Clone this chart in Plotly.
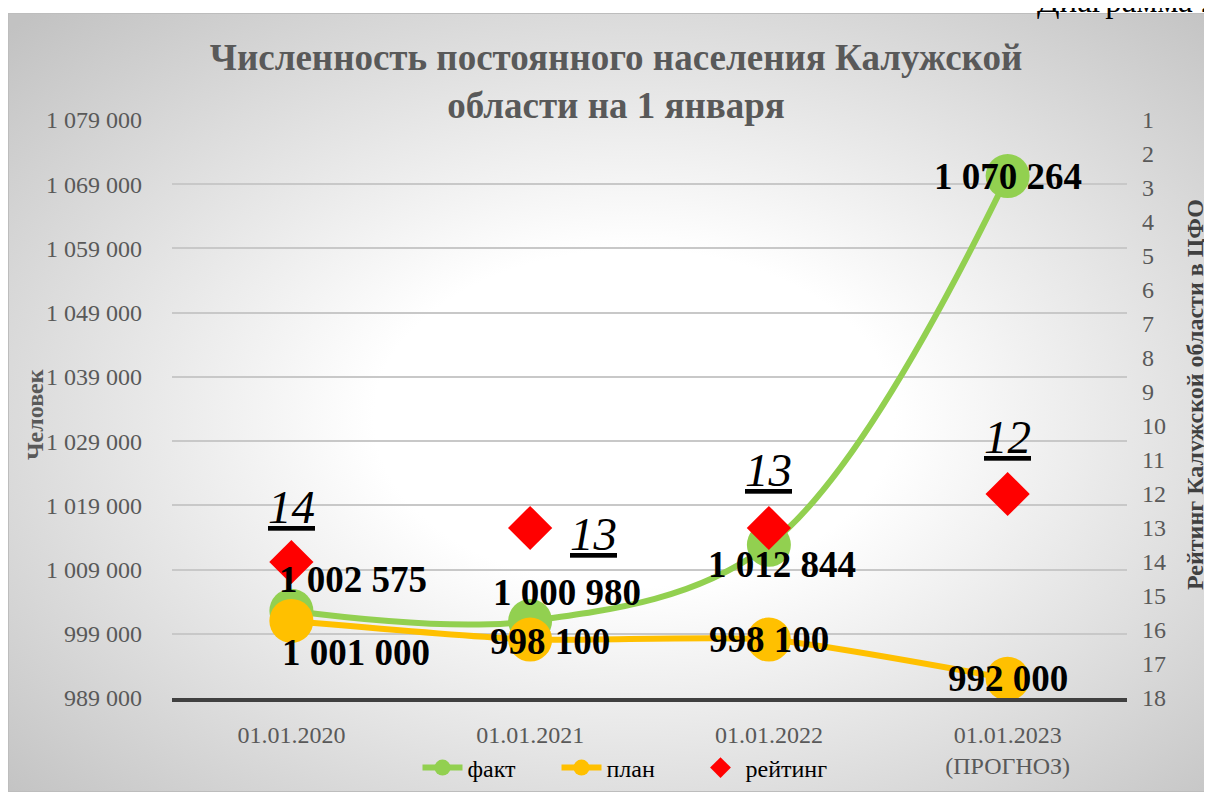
import base64
import plotly.graph_objects as go

dates = ["01.01.2020", "01.01.2021", "01.01.2022", "01.01.2023<br>(ПРОГНОЗ)"]
fact = [1002575, 1000980, 1012844, 1070264]
plan = [1001000, 998100, 998100, 992000]
rating = [14, 13, 13, 12]

# page has an 8px body margin, so the figure is a bit smaller than the window
W, H = 1204, 784
L, R, T, B = 164, 85, 112, 94
pw, ph = W - L - R, H - T - B

GREEN = "#92d050"
ORANGE = "#ffc000"
SERIF = "Liberation Serif"


def fmt(v):
    return f"{v:,}".replace(",", " ")


def px_x(x):
    return (x - L) / pw


def px_y(y):
    return (H - B - y) / ph


# label offsets (px) relative to the point
fact_shift = [(62, 31), (37, 29), (13, -20), (0, 0)]
plan_shift = [(65, -32), (20, -2), (0, 0), (0, 0)]
rate_shift = [(0, 55), (63, -6), (0, 58), (0, 57)]

fig = go.Figure()
fig.add_trace(go.Scatter(
    x=dates, y=fact, name="факт", mode="lines+markers",
    line=dict(color=GREEN, width=6, shape="spline"),
    marker=dict(size=44, color=GREEN)))
fig.add_trace(go.Scatter(
    x=dates, y=plan, name="план", mode="lines+markers",
    line=dict(color=ORANGE, width=6, shape="spline", smoothing=0.6),
    marker=dict(size=44, color=ORANGE)))
fig.add_trace(go.Scatter(
    x=dates, y=rating, name="рейтинг", mode="markers", yaxis="y2",
    marker=dict(size=34, color="#ff0000", symbol="diamond")))

ann = []
for d, v, (dx, dy) in zip(dates, fact, fact_shift):
    ann.append(dict(x=d, y=v, text=f"<b>{fmt(v)}</b>", showarrow=False,
                    xshift=dx, yshift=dy,
                    font=dict(family=SERIF, size=37, color="black")))
for d, v, (dx, dy) in zip(dates, plan, plan_shift):
    ann.append(dict(x=d, y=v, text=f"<b>{fmt(v)}</b>", showarrow=False,
                    xshift=dx, yshift=dy,
                    font=dict(family=SERIF, size=37, color="black")))
for d, v, (dx, dy) in zip(dates, rating, rate_shift):
    ann.append(dict(x=d, y=v, yref="y2", text=f"<i><u>{v}</u></i>",
                    showarrow=False, xshift=dx, yshift=dy,
                    font=dict(family=SERIF, size=47, color="black")))

# axis titles
ann.append(dict(xref="paper", yref="paper", x=px_x(27), y=px_y(407),
                xanchor="center", yanchor="middle",
                text="<b>Человек</b>", textangle=-90, showarrow=False,
                font=dict(family=SERIF, size=24, color="#595959")))
ann.append(dict(xref="paper", yref="paper", x=px_x(1187), y=px_y(387),
                xanchor="center", yanchor="middle",
                text="<b>Рейтинг Калужской области в ЦФО</b>", textangle=-90,
                showarrow=False, font=dict(family=SERIF, size=24, color="#404040")))
ann.append(dict(xref="paper", yref="paper", x=px_x(1027), y=px_y(-7),
                xanchor="left", yanchor="middle", text="Диаграмма 2",
                showarrow=False, font=dict(family=SERIF, size=33, color="black")))

bg_svg = (
    '<svg xmlns="http://www.w3.org/2000/svg" width="1204" height="779" '
    'viewBox="0 0 1204 779" preserveAspectRatio="none">'
    '<defs><radialGradient id="g" cx="52%" cy="52%" r="72%">'
    '<stop offset="0" stop-color="#ffffff"/>'
    '<stop offset="0.3" stop-color="#ffffff"/>'
    '<stop offset="1" stop-color="#c2c2c2"/></radialGradient></defs>'
    '<rect x="0" y="0" width="1204" height="779" fill="url(#g)" '
    'stroke="#bdbdbd" stroke-width="2"/></svg>'
)
bg_uri = "data:image/svg+xml;base64," + base64.b64encode(bg_svg.encode()).decode()

fig.update_layout(
    width=W, height=H,
    margin=dict(l=L, r=R, t=T, b=B, autoexpand=False),
    paper_bgcolor="white",
    plot_bgcolor="rgba(0,0,0,0)",
    separators=", ",
    font=dict(family=SERIF, color="#595959"),
    title=dict(
        text="<b>Численность постоянного населения Калужской<br>области на 1 января</b>",
        x=608 / W, xanchor="center", y=1 - 62 / H, yanchor="middle",
        yref="container",
        font=dict(family=SERIF, size=37, color="#595959")),
    images=[dict(source=bg_uri, xref="paper", yref="paper",
                 x=px_x(0), y=px_y(5),
                 sizex=1204 / pw, sizey=779 / ph,
                 sizing="stretch", layer="below",
                 xanchor="left", yanchor="top")],
    xaxis=dict(type="category", range=[-0.5, 3.5], showgrid=False,
               showline=True, linecolor="#404040", linewidth=4,
               ticks="", ticklabelstandoff=12,
               tickfont=dict(family=SERIF, size=24, color="#595959")),
    yaxis=dict(range=[989000, 1079000], tick0=989000, dtick=10000,
               tickformat=",d", showgrid=True, gridcolor="#c8c8c8",
               gridwidth=1.5, zeroline=False, ticks="",
               ticklabelstandoff=29,
               tickfont=dict(family=SERIF, size=24, color="#595959")),
    yaxis2=dict(overlaying="y", side="right", range=[18, 1], tick0=1, dtick=1,
                showgrid=False, zeroline=False, ticks="",
                ticklabelstandoff=14,
                tickfont=dict(family=SERIF, size=24, color="#595959")),
    legend=dict(orientation="h", x=px_x(618), xanchor="center",
                y=px_y(760), yanchor="middle",
                entrywidth=84, entrywidthmode="pixels", itemwidth=40,
                bgcolor="rgba(0,0,0,0)",
                font=dict(family=SERIF, size=24, color="black")),
    annotations=ann,
)

fig.write_html("out.html")
